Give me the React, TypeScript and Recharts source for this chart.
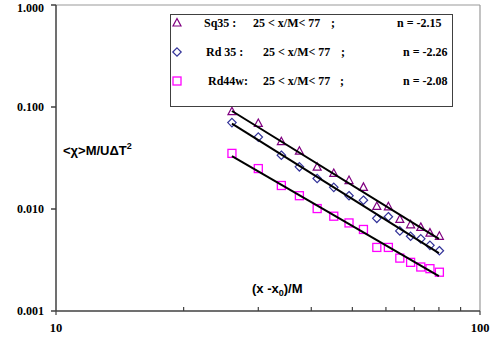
import { Legend, ReferenceLine, Scatter, ScatterChart, XAxis, YAxis, Label } from 'recharts'

// abscissas shared by the three series, (x - x0)/M
const xPos = [26, 30, 34, 37.5, 41.3, 45.2, 49.1, 53.1, 57.1, 60.8, 64.7, 68.6, 72.5, 76.2, 80.2]

const sq35 = [0.09, 0.069, 0.0457, 0.0369, 0.0257, 0.0223, 0.019, 0.0163, 0.0106, 0.0105, 0.0079, 0.007, 0.0066, 0.0058, 0.0054]
const rd35 = [0.0703, 0.0507, 0.0337, 0.0259, 0.0199, 0.0163, 0.0135, 0.0122, 0.0081, 0.0084, 0.0061, 0.0054, 0.0051, 0.0044, 0.0039]
const rd44w = [0.0351, 0.0249, 0.017, 0.0135, 0.0101, 0.0085, 0.0073, 0.0063, 0.0042, 0.0042, 0.0033, 0.003, 0.0027, 0.0026, 0.0024]

// power-law fits, end points only
const fitX = [26, 80]
const fitSq35 = [0.0914, 0.0051]
const fitRd35 = [0.0688, 0.0037]
const fitRd44w = [0.033, 0.0022]

const xTicks = [10, 20, 30, 40, 50, 60, 70, 80, 90, 100]
const yTicks = [0.001, 0.01, 0.1, 1]

const legendRows = [
  { name: 'Sq35 :', range: '25 < x/M< 77', n: 'n = -2.15' },
  { name: 'Rd 35 :', range: '25 < x/M< 77', n: 'n = -2.26' },
  { name: 'Rd44w:', range: '25 < x/M< 77', n: 'n = -2.08' },
]

const pts = (xs: number[], ys: number[]) => xs.map((x, i) => ({ x, y: ys[i] }))

const AXIS = '#404040'
const SERIF = '"Liberation Serif", "Times New Roman", serif'
const SANS = '"Liberation Sans", Arial, sans-serif'

const triPath = (cx: number, cy: number) => `M${cx},${cy - 4.5}L${cx + 4},${cy + 3}L${cx - 4},${cy + 3}Z`
const diaPath = (cx: number, cy: number) => `M${cx},${cy - 4.2}L${cx + 4.2},${cy}L${cx},${cy + 4.2}L${cx - 4.2},${cy}Z`

const Triangle = ({ cx, cy }: any) => <path d={triPath(cx, cy)} fill="none" stroke="#800080" strokeWidth={1.2} />
const Diamond = ({ cx, cy }: any) => <path d={diaPath(cx, cy)} fill="none" stroke="#333399" strokeWidth={1.2} />
const Square = ({ cx, cy }: any) => (
  <rect x={cx - 4} y={cy - 4} width={8} height={8} fill="none" stroke="#FF00FF" strokeWidth={1.3} />
)
const NoDot = () => <g />

function XTick({ x, y, payload }: any) {
  const v = payload.value
  const major = v === 10 || v === 100
  return (
    <g>
      <line x1={x} x2={x} y1={major ? y : y - 4} y2={major ? y + 4 : y} stroke={AXIS} strokeWidth={1.2} />
      {major && (
        <text x={x} y={y + 21} textAnchor="middle" fontFamily={SERIF} fontWeight="bold" fontSize={12.5} fill="#000">
          {v}
        </text>
      )}
    </g>
  )
}

// y labels centred on their tick; the top one kept inside the picture
function YTick({ x, y, payload }: any) {
  return (
    <text x={x} y={Math.max(y + 4.3, 12)} textAnchor="end" fontFamily={SERIF} fontWeight="bold" fontSize={12} fill="#000">
      {payload.value.toFixed(3)}
    </text>
  )
}

function LegendBox() {
  const nameX = [33, 35, 37]
  const rangeX = [82, 92, 92]
  const semiX = [160, 170, 169]
  const nX = [226, 232, 232]
  const rowY = [8, 37, 66]
  const marks = [Triangle, Diamond, Square]
  return (
    <div style={{ width: 283, height: 93, boxSizing: 'border-box', border: `1.5px solid ${AXIS}`, background: '#fff' }}>
      <svg width={280} height={90} style={{ display: 'block' }}>
        {legendRows.map((r, i) => {
          const M = marks[i]
          const ty = rowY[i] + 4
          const t = { fontFamily: SERIF, fontWeight: 'bold' as const, fontSize: 12, fill: '#000' }
          return (
            <g key={r.name}>
              <M cx={6} cy={rowY[i]} />
              <text x={nameX[i]} y={ty} {...t}>{r.name}</text>
              <text x={rangeX[i]} y={ty} {...t}>{r.range}</text>
              <text x={semiX[i]} y={ty} {...t}>;</text>
              <text x={nX[i]} y={ty} {...t}>{r.n}</text>
            </g>
          )
        })}
      </svg>
    </div>
  )
}

export default function App() {
  return (
    <div style={{ position: 'absolute', left: 0, top: 0, background: '#fff' }}>
      <ScatterChart width={492} height={341} margin={{ top: 5, right: 12, left: 0, bottom: 0 }}>
        <XAxis
          type="number"
          dataKey="x"
          scale="log"
          domain={[10, 100]}
          ticks={xTicks}
          allowDataOverflow
          height={30}
          stroke={AXIS}
          strokeWidth={1.5}
          tickLine={false}
          tickSize={0}
          tickMargin={0}
          tick={<XTick />}
          interval={0}
        >
          <Label
            content={() => (
              <text x={252} y={293} fontFamily={SANS} fontWeight="bold" fontSize={13} fill="#000">
                (x -x<tspan fontSize={9} dy={3}>0</tspan>
                <tspan dy={-3}>)/M</tspan>
              </text>
            )}
          />
        </XAxis>
        <YAxis
          type="number"
          dataKey="y"
          scale="log"
          domain={[0.001, 1]}
          ticks={yTicks}
          allowDataOverflow
          width={56}
          stroke={AXIS}
          strokeWidth={1.5}
          tickSize={5}
          tickMargin={7}
          tick={<YTick />}
          interval={0}
        >
          <Label
            content={() => (
              <text x={63} y={155} fontFamily={SANS} fontWeight="bold" fontSize={13} fill="#000">
                {'<\u03c7>M/U\u0394T'}
                <tspan fontSize={9} dy={-6}>2</tspan>
              </text>
            )}
          />
        </YAxis>
        <ReferenceLine y={1} stroke="#9a9a9a" strokeWidth={1.2} />
        <ReferenceLine x={100} stroke="#9a9a9a" strokeWidth={1.2} />
        <Scatter data={pts(xPos, sq35)} shape={<Triangle />} isAnimationActive={false} />
        <Scatter data={pts(xPos, rd35)} shape={<Diamond />} isAnimationActive={false} />
        <Scatter data={pts(xPos, rd44w)} shape={<Square />} isAnimationActive={false} />
        <Scatter data={pts(fitX, fitSq35)} line={{ stroke: '#000', strokeWidth: 2 }} shape={<NoDot />} isAnimationActive={false} />
        <Scatter data={pts(fitX, fitRd35)} line={{ stroke: '#000', strokeWidth: 2 }} shape={<NoDot />} isAnimationActive={false} />
        <Scatter data={pts(fitX, fitRd44w)} line={{ stroke: '#000', strokeWidth: 2 }} shape={<NoDot />} isAnimationActive={false} />
        <Legend
          layout="horizontal"
          verticalAlign="middle"
          align="center"
          content={() => <LegendBox />}
          wrapperStyle={{ left: 170, top: 14, width: 283, height: 93 }}
        />
      </ScatterChart>
    </div>
  )
}
